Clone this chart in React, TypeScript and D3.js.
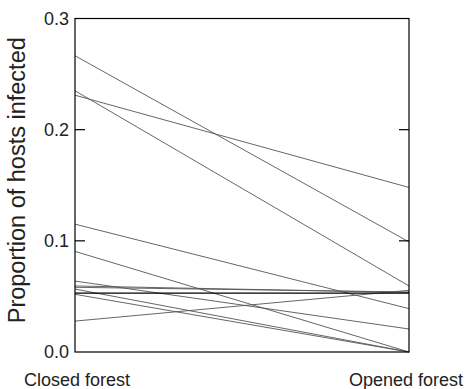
import React from "react";
import * as d3 from "d3";

// habitat categories
const habitats = ["Closed forest", "Opened forest"];

// proportion infected per host species, closed vs opened forest
const closedValues = [0.2665, 0.235, 0.231, 0.115, 0.0905, 0.0638, 0.0594, 0.0582, 0.0566, 0.0519, 0.0278];
const openedValues = [0.099, 0.0594, 0.148, 0.039, 0.0, 0.0207, 0.0535, 0.054, 0.0, 0.0, 0.0555];

// darker horizontal line (overall level)
const meanClosed = 0.053;
const meanOpened = 0.053;

const yTicks = [0, 0.1, 0.2, 0.3];

export default function App() {
  const width = 465;
  const height = 389;
  const margin = { top: 18.5, right: 56, bottom: 37, left: 75 };

  const x = d3
    .scalePoint<string>()
    .domain(habitats)
    .range([margin.left, width - margin.right]);

  const y = d3
    .scaleLinear()
    .domain([0, 0.3])
    .range([height - margin.bottom, margin.top]);

  const line = d3
    .line<[string, number]>()
    .x((d) => x(d[0]) as number)
    .y((d) => y(d[1]));

  const series: [string, number][][] = closedValues.map((v, i) => [
    [habitats[0], v],
    [habitats[1], openedValues[i]],
  ]);

  const x0 = x(habitats[0]) as number;
  const x1 = x(habitats[1]) as number;
  const font = "'Liberation Sans', Arial, sans-serif";

  return (
    <svg
      width={width}
      height={height}
      style={{ position: "absolute", left: 0, top: 0, background: "#fff" }}
    >
      {series.map((s, i) => (
        <path key={i} d={line(s) || ""} fill="none" stroke="#555" strokeWidth={0.9} />
      ))}
      <path
        d={line([
          [habitats[0], meanClosed],
          [habitats[1], meanOpened],
        ]) || ""}
        fill="none"
        stroke="#000"
        strokeWidth={1.4}
      />

      <rect
        x={x0}
        y={y(0.3)}
        width={x1 - x0}
        height={y(0) - y(0.3)}
        fill="none"
        stroke="#000"
        strokeWidth={1.2}
      />

      {yTicks.map((t) => (
        <g key={t}>
          {t > 0 && t < 0.3 && (
            <>
              <line x1={x0} x2={x0 + 10} y1={y(t)} y2={y(t)} stroke="#000" strokeWidth={1.2} />
              <line x1={x1 - 10} x2={x1} y1={y(t)} y2={y(t)} stroke="#000" strokeWidth={1.2} />
            </>
          )}
          <text
            x={x0 - 6}
            y={y(t)}
            dy="0.35em"
            textAnchor="end"
            fontFamily={font}
            fontSize={18}
            fill="#222"
          >
            {d3.format(".1f")(t)}
          </text>
        </g>
      ))}

      {habitats.map((h) => (
        <text
          key={h}
          x={(x(h) as number) + (h === habitats[0] ? 2 : -3)}
          y={386}
          textAnchor="middle"
          fontFamily={font}
          fontSize={18}
          fill="#222"
        >
          {h}
        </text>
      ))}

      <text
        transform={`translate(25,${(y(0) + y(0.3)) / 2 - 5}) rotate(-90)`}
        textAnchor="middle"
        fontFamily={font}
        fontSize={23.5}
        fill="#222"
      >
        Proportion of hosts infected
      </text>
    </svg>
  );
}
